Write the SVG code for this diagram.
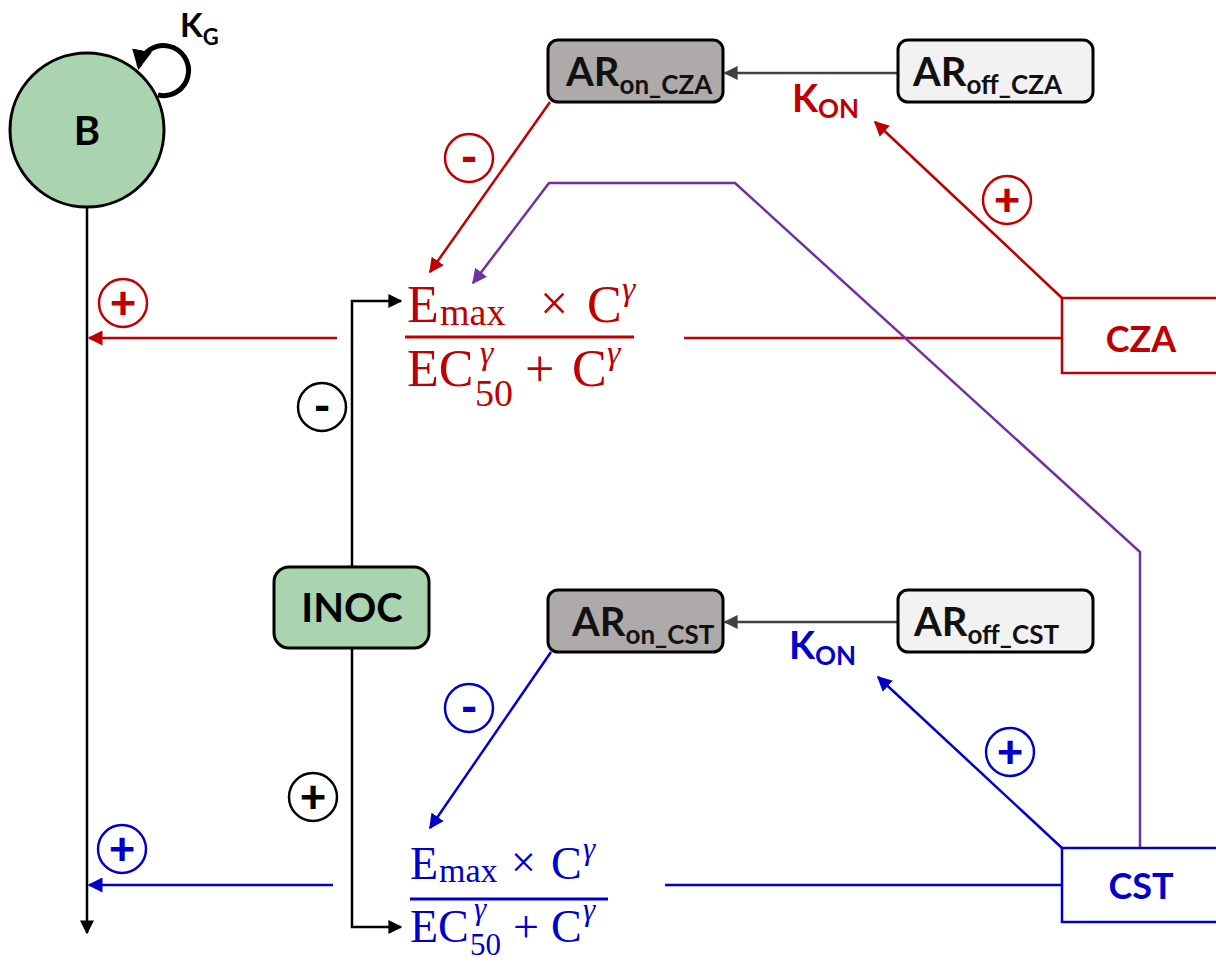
<svg xmlns="http://www.w3.org/2000/svg" width="1216" height="963" viewBox="0 0 1216 963">
<defs>
<style>
.lbl{font-family:Lato,"Liberation Sans",sans-serif;font-weight:bold}
.math{font-family:"Liberation Serif","DejaVu Serif",serif}
.red{fill:#c00000}
.blue{fill:#0000cc}
.sign{font-family:Lato,"Liberation Sans",sans-serif;font-weight:900;font-size:46px;text-anchor:middle;dominant-baseline:central}
.ring{fill:none;stroke-width:2.5}
</style>
<marker id="aK" viewBox="0 0 10 10" refX="9" refY="5" markerWidth="14" markerHeight="14" markerUnits="userSpaceOnUse" orient="auto"><path d="M0,0 L10,5 L0,10 z" fill="#000"/></marker>
<marker id="aR" viewBox="0 0 10 10" refX="9" refY="5" markerWidth="15" markerHeight="15" markerUnits="userSpaceOnUse" orient="auto"><path d="M0,0 L10,5 L0,10 z" fill="#c00000"/></marker>
<marker id="aB" viewBox="0 0 10 10" refX="9" refY="5" markerWidth="15" markerHeight="15" markerUnits="userSpaceOnUse" orient="auto"><path d="M0,0 L10,5 L0,10 z" fill="#0000cc"/></marker>
<marker id="aP" viewBox="0 0 10 10" refX="9" refY="5" markerWidth="15" markerHeight="15" markerUnits="userSpaceOnUse" orient="auto"><path d="M0,0 L10,5 L0,10 z" fill="#7030a0"/></marker>
<marker id="aG" viewBox="0 0 10 10" refX="9" refY="5" markerWidth="14" markerHeight="14" markerUnits="userSpaceOnUse" orient="auto"><path d="M0,0 L10,5 L0,10 z" fill="#404040"/></marker>
<marker id="aLoop" viewBox="0 0 10 10" refX="8" refY="5" markerWidth="20" markerHeight="20" markerUnits="userSpaceOnUse" orient="auto"><path d="M0,0 L10,5 L0,10 z" fill="#000"/></marker>
</defs>
<rect width="1216" height="963" fill="#fff"/>

<g id="connectors" fill="none">
  <line x1="87" y1="207" x2="87" y2="933" stroke="#000" stroke-width="2.5" marker-end="url(#aK)"/>
  <path d="M158,95 A25,25 0 1 0 139,66" stroke="#000" stroke-width="5" marker-end="url(#aLoop)"/>
  <path d="M352,567 V301 H401" stroke="#000" stroke-width="2.5" marker-end="url(#aK)"/>
  <path d="M352,648 V927 H401" stroke="#000" stroke-width="2.5" marker-end="url(#aK)"/>
  <line x1="337" y1="338" x2="89" y2="338" stroke="#c00000" stroke-width="2.5" marker-end="url(#aR)"/>
  <line x1="333" y1="885" x2="89" y2="885" stroke="#0000cc" stroke-width="2.5" marker-end="url(#aB)"/>
  <line x1="684" y1="338" x2="1062" y2="338" stroke="#c00000" stroke-width="2.5"/>
  <line x1="665" y1="885" x2="1062" y2="885" stroke="#0000cc" stroke-width="2.5"/>
  <line x1="1062" y1="298" x2="875" y2="122" stroke="#c00000" stroke-width="2.5" marker-end="url(#aR)"/>
  <line x1="1062" y1="848" x2="878" y2="677" stroke="#0000cc" stroke-width="2.5" marker-end="url(#aB)"/>
  <line x1="550" y1="102" x2="430" y2="272" stroke="#c00000" stroke-width="2.5" marker-end="url(#aR)"/>
  <line x1="551" y1="652" x2="430" y2="828" stroke="#0000cc" stroke-width="2.5" marker-end="url(#aB)"/>
  <path d="M1140,848 V552 L735,183 H549 L473,283" stroke="#7030a0" stroke-width="2.5" marker-end="url(#aP)"/>
  <line x1="898" y1="73" x2="725" y2="73" stroke="#404040" stroke-width="2.5" marker-end="url(#aG)"/>
  <line x1="898" y1="622" x2="725" y2="622" stroke="#404040" stroke-width="2.5" marker-end="url(#aG)"/>
</g>

<g id="B">
  <circle cx="87" cy="130" r="77" fill="#a9d4af" stroke="#000" stroke-width="3"/>
  <text class="lbl" x="87" y="145" font-size="40" text-anchor="middle">B</text>
</g>
<g id="KG">
  <text class="lbl" x="180" y="37" font-size="33">K<tspan font-size="22" dy="8">G</tspan></text>
</g>

<g id="INOC">
  <rect x="274" y="567" width="155" height="81" rx="15" fill="#a9d4af" stroke="#000" stroke-width="3"/>
  <text class="lbl" x="352" y="622" font-size="40" text-anchor="middle">INOC</text>
</g>

<g id="ARon_CZA">
  <rect x="548" y="40" width="175" height="62" rx="10" fill="#aeaaaa" stroke="#000" stroke-width="3"/>
  <text class="lbl" x="566" y="86" font-size="40" fill="#111">AR<tspan font-size="26" dy="8">on_CZA</tspan></text>
</g>
<g id="ARoff_CZA">
  <rect x="898" y="40" width="195" height="62" rx="10" fill="#f2f2f2" stroke="#000" stroke-width="3"/>
  <text class="lbl" x="913" y="86" font-size="40" fill="#111">AR<tspan font-size="26" dy="8">off_CZA</tspan></text>
</g>
<g id="ARon_CST">
  <rect x="548" y="590" width="175" height="62" rx="10" fill="#aeaaaa" stroke="#000" stroke-width="3"/>
  <text class="lbl" x="572" y="636" font-size="40" fill="#111">AR<tspan font-size="26" dy="8">on_CST</tspan></text>
</g>
<g id="ARoff_CST">
  <rect x="898" y="590" width="195" height="62" rx="10" fill="#f2f2f2" stroke="#000" stroke-width="3"/>
  <text class="lbl" x="914" y="636" font-size="40" fill="#111">AR<tspan font-size="26" dy="8">off_CST</tspan></text>
</g>

<g id="KON_CZA">
  <text class="lbl red" x="792" y="112" font-size="38">K<tspan font-size="26" dy="6">ON</tspan></text>
</g>
<g id="KON_CST">
  <text class="lbl blue" x="789" y="659" font-size="38">K<tspan font-size="26" dy="6">ON</tspan></text>
</g>

<g id="CZA">
  <rect x="1062" y="298" width="170" height="75" fill="#fff" stroke="#c00000" stroke-width="2.5"/>
  <text class="lbl red" x="1141" y="352" font-size="36" text-anchor="middle">CZA</text>
</g>
<g id="CST">
  <rect x="1062" y="848" width="170" height="74" fill="#fff" stroke="#0000cc" stroke-width="2.5"/>
  <text class="lbl blue" x="1141" y="899" font-size="36" text-anchor="middle">CST</text>
</g>

<g id="fraction_CZA" class="math red">
  <text x="407" y="322" font-size="52">E</text>
  <text x="440" y="325" font-size="38">max</text>
  <text x="540" y="320" font-size="50">×</text>
  <text x="587" y="322" font-size="52">C</text>
  <text x="622" y="300" font-size="34" font-style="italic">γ</text>
  <rect x="405" y="335.5" width="229" height="3"/>
  <text x="407" y="386" font-size="52">EC</text>
  <text x="480" y="364" font-size="34" font-style="italic">γ</text>
  <text x="475" y="406" font-size="38">50</text>
  <text x="525" y="386" font-size="52">+</text>
  <text x="572" y="386" font-size="52">C</text>
  <text x="607" y="364" font-size="34" font-style="italic">γ</text>
</g>

<g id="fraction_CST" class="math blue">
  <text x="410" y="879" font-size="46">E</text>
  <text x="439" y="882" font-size="34">max</text>
  <text x="511" y="877" font-size="44">×</text>
  <text x="551" y="879" font-size="46">C</text>
  <text x="583" y="859" font-size="31" font-style="italic">γ</text>
  <rect x="410" y="897.5" width="198" height="3"/>
  <text x="410" y="942" font-size="46">EC</text>
  <text x="474" y="919" font-size="31" font-style="italic">γ</text>
  <text x="470" y="955" font-size="31">50</text>
  <text x="513" y="942" font-size="46">+</text>
  <text x="551" y="942" font-size="46">C</text>
  <text x="583" y="920" font-size="31" font-style="italic">γ</text>
</g>

<g id="signs">
  <circle class="ring" cx="469" cy="158" r="24" stroke="#c00000"/>
  <text class="sign red" x="469" y="155">-</text>
  <circle class="ring" cx="1007" cy="200" r="24" stroke="#c00000"/>
  <text class="sign red" x="1007" y="198">+</text>
  <circle class="ring" cx="123" cy="303" r="24" stroke="#c00000"/>
  <text class="sign red" x="123" y="301">+</text>
  <circle class="ring" cx="322" cy="407" r="24" stroke="#000"/>
  <text class="sign" x="322" y="404">-</text>
  <circle class="ring" cx="313" cy="797" r="24" stroke="#000"/>
  <text class="sign" x="313" y="795">+</text>
  <circle class="ring" cx="469" cy="708" r="24" stroke="#0000cc"/>
  <text class="sign blue" x="469" y="705">-</text>
  <circle class="ring" cx="1010" cy="752" r="24" stroke="#0000cc"/>
  <text class="sign blue" x="1010" y="750">+</text>
  <circle class="ring" cx="122" cy="849" r="24" stroke="#0000cc"/>
  <text class="sign blue" x="122" y="847">+</text>
</g>
</svg>
